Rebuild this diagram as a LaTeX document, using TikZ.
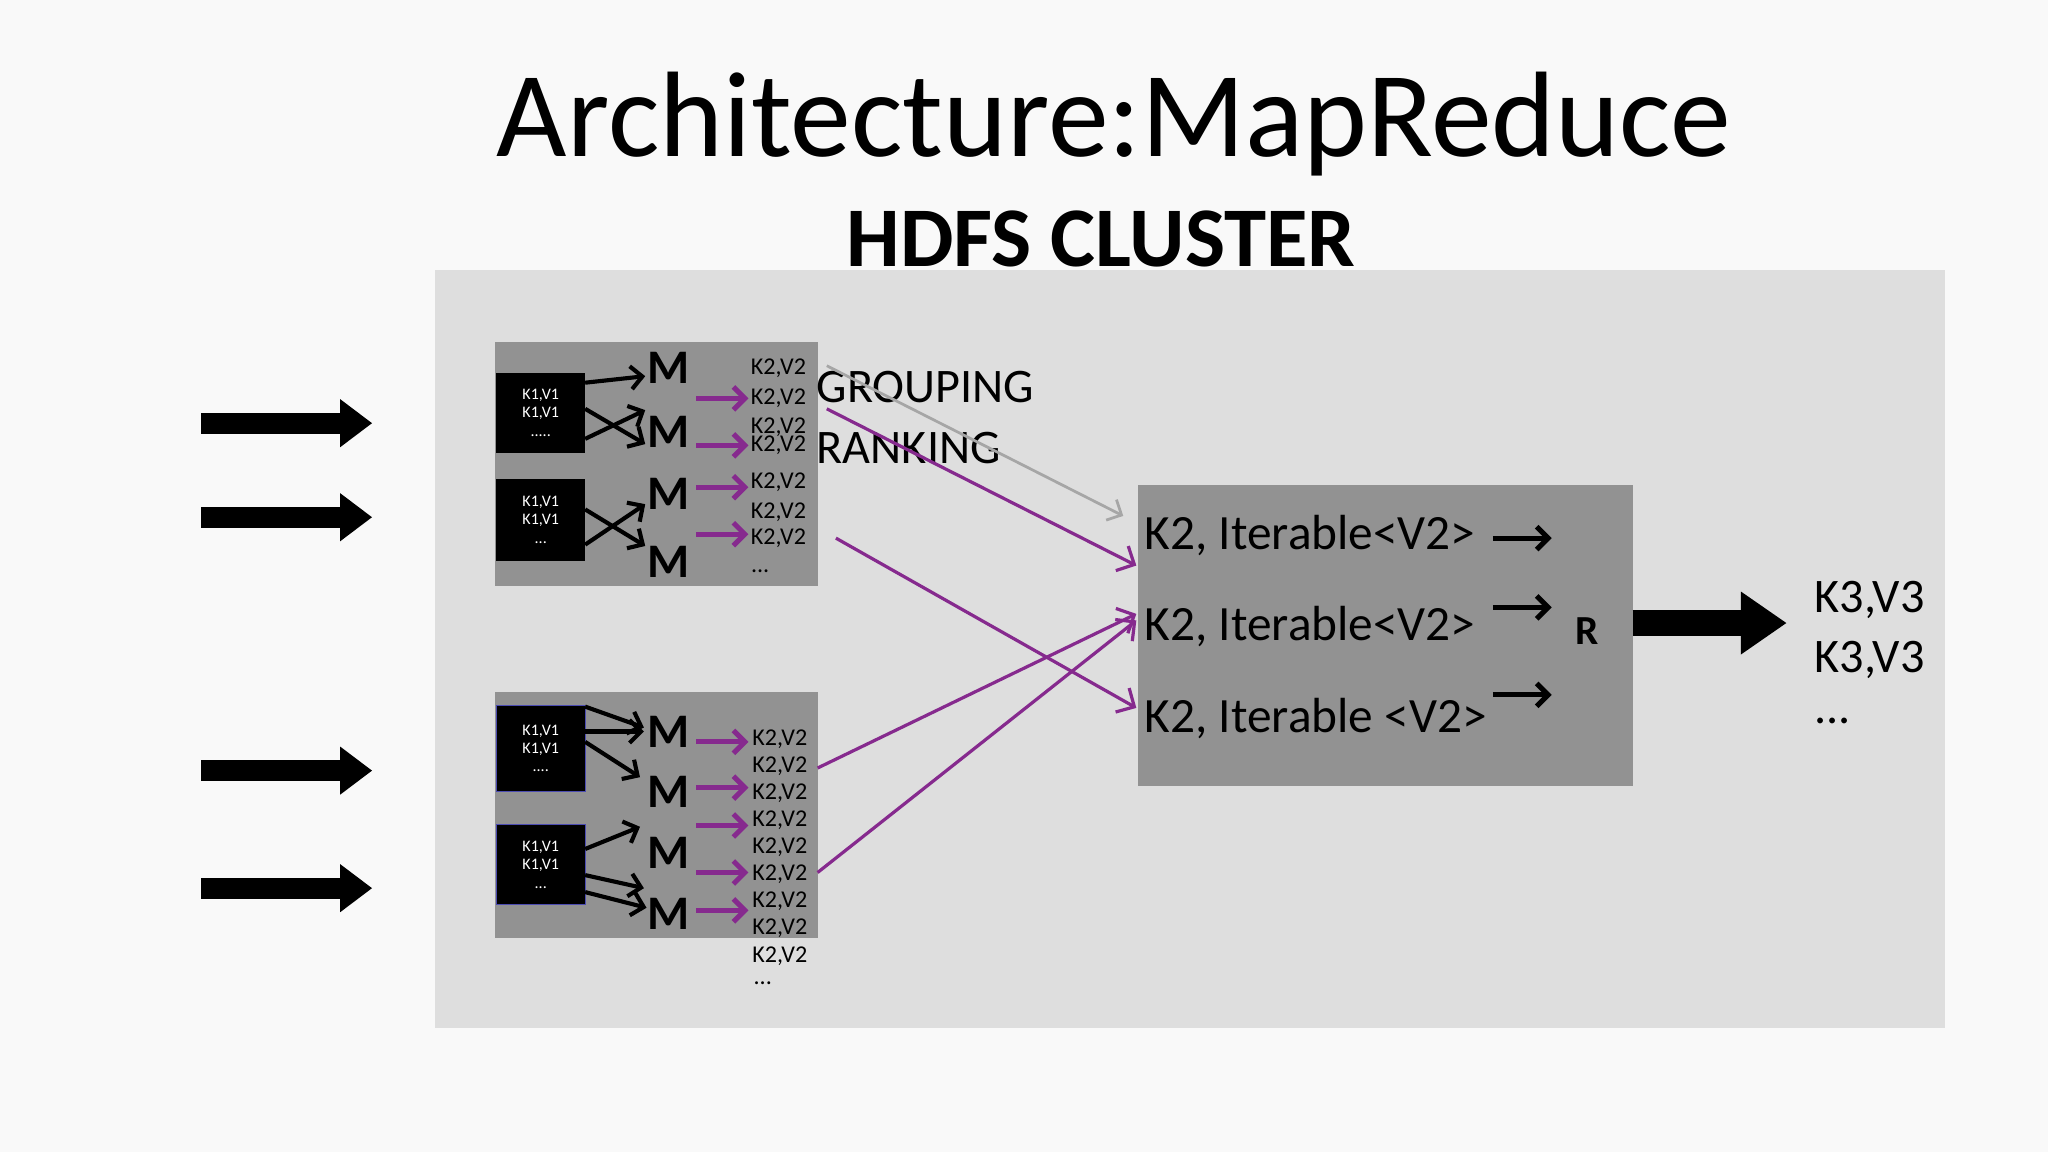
\documentclass[tikz,border=0pt]{standalone}
\usepackage{fontspec}
\setmainfont{Carlito}
\usetikzlibrary{arrows.meta}
\definecolor{clusterbg}{HTML}{DEDEDE}
\definecolor{mapbg}{HTML}{929292}
\definecolor{arrowpurple}{HTML}{862A8E}
\begin{document}
\begin{tikzpicture}[
    x=0.02cm, y=-0.02cm,
    px/.style={font=\fontsize{#1}{#1}\selectfont},
    bpx/.style={font=\fontsize{#1}{#1}\selectfont\bfseries},
    mapbox/.style={fill=mapbg},
    kvbox/.style={fill=black, text=white, font=\fontsize{7}{8}\selectfont, align=center},
    mnode/.style={font=\fontsize{21}{21}\selectfont\bfseries, inner sep=0pt},
    kv/.style={font=\fontsize{10.5}{11}\selectfont, inner sep=0pt},
    maparrow/.style={-{Straight Barb[length=5pt]}, line width=1.8pt},
    emit/.style={-{Straight Barb[length=5pt]}, line width=2.2pt, arrowpurple},
    shuffle/.style={-{Straight Barb[length=6pt]}, line width=1.4pt, arrowpurple},
    bigarrow/.style={-{Triangle[length=14pt,width=20pt]}, line width=9pt}
]
\useasboundingbox[fill=white!95!gray] (0,0) rectangle (1568,882);

% titles
\node[px=53] (title) at (853,95) {Architecture:MapReduce};
\node[bpx=37] (hdfs) at (843,183) {HDFS CLUSTER};

% cluster area
\fill[clusterbg] (333,207) rectangle (1489,787);

% input arrows
\foreach \y/\n in {324/a,396/b,590/c,680/d} {
    \coordinate (in\n) at (154,\y);
    \coordinate (out\n) at (285,\y);
    \draw[bigarrow] (in\n) -- (out\n);
}

% === upper map block ===
\fill[mapbox] (379,262) rectangle (626,449);
\node[kvbox, minimum width=68*0.02cm, minimum height=61*0.02cm] (ua) at (414,316) {K1,V1\\K1,V1\\.....};
\node[kvbox, minimum width=68*0.02cm, minimum height=63*0.02cm] (ub) at (414,398) {K1,V1\\K1,V1\\...};
\foreach \y [count=\i] in {282,331,378,430}
    \node[mnode] (um\i) at (512,\y) {M};
\draw[maparrow] (448,293) -- (494,288);
\draw[maparrow] (448,313) -- (494,340);
\draw[maparrow] (448,336) -- (494,314);
\draw[maparrow] (448,390) -- (494,418);
\draw[maparrow] (448,417) -- (494,386);
\foreach \y [count=\i] in {282,305,327,341,369,392,412}
    \node[kv] (ukv\i) at (596,\y) {K2,V2};
\node[kv] (ukvdots) at (582,437) {...};
\foreach \y in {305,341,373,409}
    \draw[emit] (533,\y) -- (573,\y);

% === lower map block ===
\fill[mapbox] (379,530) rectangle (626,718);
\node[kvbox, draw=blue!40!gray, minimum width=68*0.02cm, minimum height=66*0.02cm] (la) at (414,573) {K1,V1\\K1,V1\\....};
\node[kvbox, draw=blue!40!gray, minimum width=68*0.02cm, minimum height=61*0.02cm] (lb) at (414,662) {K1,V1\\K1,V1\\...};
\foreach \y [count=\i] in {560,606,653,700}
    \node[mnode] (lm\i) at (512,\y) {M};
\draw[maparrow] (448,541) -- (493,557);
\draw[maparrow] (448,560) -- (493,560);
\draw[maparrow] (448,568) -- (490,595);
\draw[maparrow] (448,650) -- (490,633);
\draw[maparrow] (448,670) -- (493,680);
\draw[maparrow] (448,683) -- (495,695);
\foreach \y [count=\i] in {566,587,607,628,649,669,690,711,732}
    \node[kv] (lkv\i) at (597,\y) {K2,V2};
\node[kv] (lkvdots) at (584,753) {...};
\foreach \y in {568,603,632,668,697}
    \draw[emit] (533,\y) -- (573,\y);

% grouping / ranking
\node[px=21, anchor=west, inner sep=0pt] (group) at (625,296) {GROUPING};
\node[px=21, anchor=west, inner sep=0pt] (rank) at (625,343) {RANKING};
\draw[-{Straight Barb[length=5pt]}, gray!70, line width=1.2pt] (633,280) -- (860,395);

% === reduce block ===
\fill[mapbg] (871,371) rectangle (1250,602);
\node[px=21.5, anchor=west, inner sep=0pt] (it1) at (876,410) {K2, Iterable<V2>};
\node[px=21.5, anchor=west, inner sep=0pt] (it2) at (876,480) {K2, Iterable<V2>};
\node[px=21.5, anchor=west, inner sep=0pt] (it3) at (876,550) {K2, Iterable <V2>};
\foreach \y in {412,465,532}
    \draw[-{Straight Barb[length=5pt]}, line width=2.2pt] (1143,\y) -- (1188,\y);
\node[bpx=18] (red) at (1215,483) {R};

% shuffle lines
\draw[shuffle] (633,313) -- (870,433);
\draw[shuffle] (640,412) -- (870,542);
\draw[shuffle] (626,588) -- (870,470);
\draw[shuffle] (626,668) -- (870,475);

% output
\coordinate (rout) at (1250,477);
\coordinate (oend) at (1368,477);
\draw[bigarrow, line width=11pt, -{Triangle[length=20pt,width=26pt]}] (rout) -- (oend);
\node[px=21, anchor=west, inner sep=0pt] (o1) at (1389,459) {K3,V3};
\node[px=21, anchor=west, inner sep=0pt] (o2) at (1389,505) {K3,V3};
\node[px=21, anchor=west, inner sep=0pt] (o3) at (1389,552) {...};
\end{tikzpicture}
\end{document}
